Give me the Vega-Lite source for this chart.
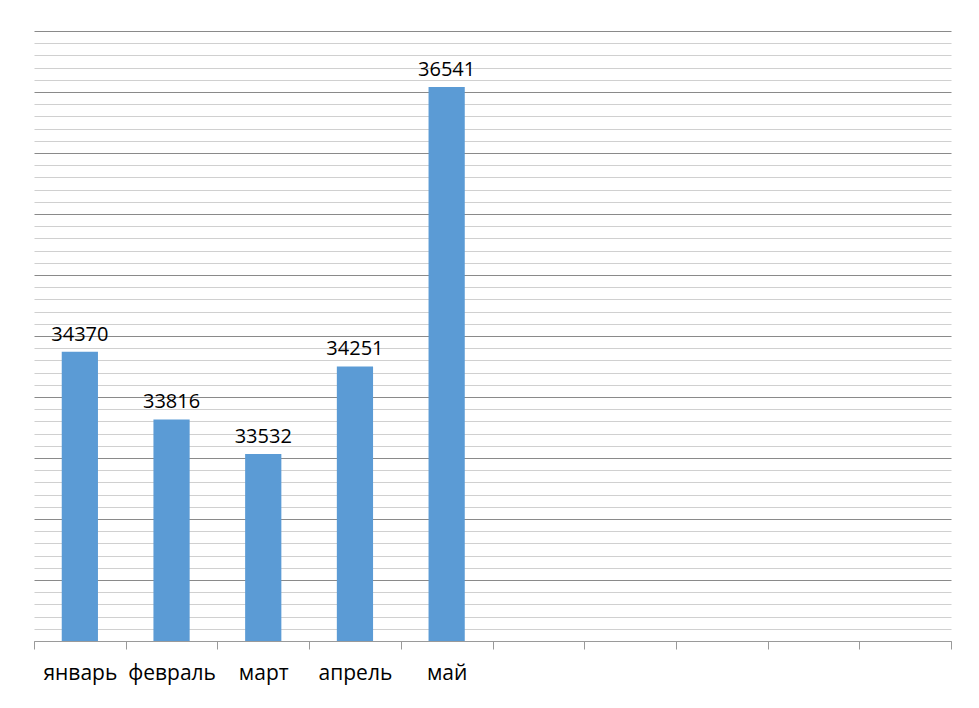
{
  "$schema": "https://vega.github.io/schema/vega-lite/v6.json",
  "width": 917,
  "height": 610,
  "autosize": "none",
  "padding": {"left": 34, "top": 31, "right": 28, "bottom": 67},
  "background": "white",
  "config": {"view": {"stroke": null}},
  "data": {"values": [
    {"month": "январь", "value": 34370},
    {"month": "февраль", "value": 33816},
    {"month": "март", "value": 33532},
    {"month": "апрель", "value": 34251},
    {"month": "май", "value": 36541}
  ]},
  "encoding": {
    "x": {
      "field": "month", "type": "nominal", "sort": null,
      "scale": {"domain": ["январь", "февраль", "март", "апрель", "май", "_6", "_7", "_8", "_9", "_10"], "paddingInner": 0, "paddingOuter": 0},
      "axis": {
        "title": null, "labelAngle": 0, "tickBand": "extent",
        "labelExpr": "indexof(datum.label, '_') === 0 ? '' : datum.label",
        "labelFont": "Open Sans", "labelFontSize": 21, "labelColor": "#000000",
        "labelPadding": 13, "tickSize": 8, "tickColor": "#9a9a9a", "domainColor": "#9a9a9a",
        "grid": false, "labelOverlap": false
      }
    },
    "y": {
      "field": "value", "type": "quantitative",
      "scale": {"domain": [32000, 37000], "nice": false, "zero": false},
      "axis": {
        "title": null, "labels": false, "ticks": false, "domain": false,
        "tickCount": 50, "grid": true,
        "gridColor": {"condition": {"test": "datum.value % 500 === 0", "value": "#8a8a8a"}, "value": "#d0d0d0"},
        "gridWidth": 1.2
      }
    }
  },
  "layer": [
    {"mark": {"type": "bar", "color": "#5B9BD5", "width": {"band": 0.395}}, "encoding": {"y2": {"datum": 32000}}},
    {"mark": {"type": "text", "baseline": "bottom", "dy": -7, "font": "Open Sans", "fontSize": 20, "color": "#000000"},
     "encoding": {"text": {"field": "value", "type": "quantitative", "format": "d"}}}
  ]
}
